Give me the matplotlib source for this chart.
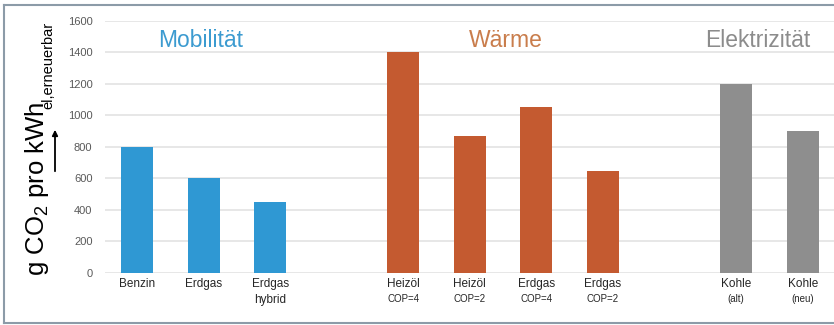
import matplotlib
matplotlib.use("Agg")
import matplotlib.pyplot as plt
from matplotlib.transforms import blended_transform_factory

plt.rcParams['font.family'] = ['Liberation Sans', 'DejaVu Sans']
plt.rcParams['mathtext.fontset'] = 'custom'
plt.rcParams['mathtext.rm'] = 'Liberation Sans'
plt.rcParams['mathtext.it'] = 'Liberation Sans'

# Data
labels_main = ["Benzin", "Erdgas", "Erdgas", "Heizöl", "Heizöl", "Erdgas", "Erdgas", "Kohle", "Kohle"]
labels_sub = ["", "", "hybrid", "COP=4", "COP=2", "COP=4", "COP=2", "(alt)", "(neu)"]
values = [800, 600, 450, 1400, 870, 1050, 650, 1200, 900]
slots = [0, 1, 2, 4, 5, 6, 7, 9, 10]
groups = ["mob", "mob", "mob", "w", "w", "w", "w", "el", "el"]
group_titles = {"mob": "Mobilität", "w": "Wärme", "el": "Elektrizität"}
y_ticks = [0, 200, 400, 600, 800, 1000, 1200, 1400, 1600]

bar_colors = {"mob": "#2F98D3", "w": "#C45A30", "el": "#8E8E8E"}
title_colors = {"mob": "#3C9BD0", "w": "#C97D4C", "el": "#8C8C8C"}
title_pos = {"mob": 0.95, "w": 5.54, "el": 9.33}

W, H = 834, 325
fig = plt.figure(figsize=(W / 100, H / 100), dpi=100)
ax = fig.add_axes([105 / W, 1 - 273 / H, 1 - 105 / W, (273 - 20.7) / H])

ax.bar(slots, values, width=0.48, color=[bar_colors[g] for g in groups], zorder=3)
ax.set_xlim(-0.48, 10.47)
ax.set_ylim(0, 1600)
ax.set_yticks(y_ticks)
ax.set_yticklabels([str(v) for v in y_ticks], fontsize=8, color="#595959")
ax.tick_params(axis='y', length=0, pad=9)
ax.grid(axis='y', color="#E3E3E3", linewidth=1.2, zorder=0)
for s in ax.spines.values():
    s.set_visible(False)
ax.set_xticks([])

trans = blended_transform_factory(ax.transData, ax.transAxes)
for x, m, sub in zip(slots, labels_main, labels_sub):
    ax.text(x, -0.018, m, transform=trans, ha='center', va='top', fontsize=8.5, color="#262626")
    if sub:
        small = sub.startswith("COP") or sub.startswith("(")
        ax.text(x, -0.085, sub, transform=trans, ha='center', va='top',
                fontsize=7 if small else 8.5, color="#262626")

for g, t in group_titles.items():
    ax.text(title_pos[g], 1474, t, ha='center', va='center', fontsize=16.5, color=title_colors[g])

# y-axis label: main part plus smaller subscript
fig.text(37 / W, 1 - 276 / H, r"g CO$_2$ pro kWh", rotation=90,
         ha='center', va='bottom', fontsize=18.5, color="black")
fig.text(48 / W, 1 - 109 / H, "el,erneuerbar", rotation=90,
         ha='center', va='bottom', fontsize=10.5, color="black")
fig.add_artist(matplotlib.patches.FancyArrowPatch((55 / W, 1 - 174 / H), (55 / W, 1 - 127 / H),
               transform=fig.transFigure, arrowstyle='-|>', mutation_scale=8,
               color='black', linewidth=1.3))

# outer frame (left, top, bottom)
frame_c = "#8C9BA8"
fig.add_artist(plt.Line2D([4 / W, 4 / W], [1 - 323 / H, 1 - 5 / H], transform=fig.transFigure, color=frame_c, lw=1.5))
fig.add_artist(plt.Line2D([4 / W, 1], [1 - 5 / H, 1 - 5 / H], transform=fig.transFigure, color=frame_c, lw=1.5))
fig.add_artist(plt.Line2D([4 / W, 1], [1 - 323 / H, 1 - 323 / H], transform=fig.transFigure, color=frame_c, lw=1.5))

fig.savefig("out.png", dpi=100)
